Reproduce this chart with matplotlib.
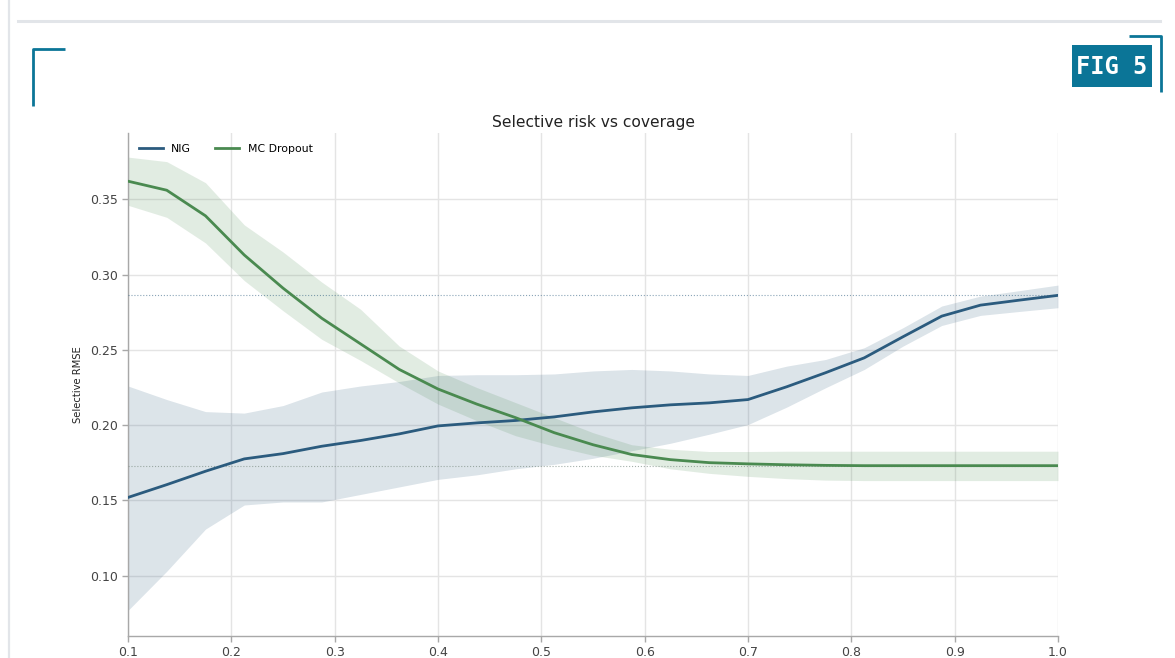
import matplotlib
matplotlib.use("Agg")
import matplotlib.pyplot as plt
from matplotlib.lines import Line2D
from matplotlib.patches import Rectangle
import numpy as np

# Coverage grid (25 evaluation points)
coverage = np.linspace(0.1, 1.0, 25)

# NIG selective RMSE with band
nig_mean = [0.152, 0.1605, 0.1694, 0.1776, 0.1811, 0.1860, 0.1898, 0.1942,
            0.1995, 0.2015, 0.2031, 0.2055, 0.2088, 0.2115, 0.2135, 0.2148,
            0.2170, 0.2255, 0.2348, 0.2447, 0.2587, 0.2724, 0.2797, 0.2830,
            0.2862]
nig_lower = [0.077, 0.103, 0.131, 0.147, 0.149, 0.149, 0.154, 0.159,
             0.164, 0.167, 0.171, 0.174, 0.178, 0.183, 0.188, 0.194,
             0.2004, 0.212, 0.2248, 0.237, 0.2525, 0.2662, 0.2729, 0.2755,
             0.278]
nig_upper = [0.226, 0.217, 0.209, 0.208, 0.213, 0.222, 0.226, 0.229,
             0.233, 0.2335, 0.2335, 0.234, 0.236, 0.237, 0.236, 0.234,
             0.233, 0.2392, 0.2436, 0.2514, 0.2647, 0.2791, 0.2857, 0.2893,
             0.293]

# MC Dropout selective RMSE with band
mc_mean = [0.362, 0.356, 0.339, 0.313, 0.291, 0.271, 0.254, 0.237,
           0.224, 0.214, 0.205, 0.195, 0.187, 0.1805, 0.1771, 0.1751,
           0.1743, 0.1737, 0.1733, 0.1731, 0.1731, 0.1731, 0.1731, 0.1731,
           0.1731]
mc_lower = [0.346, 0.338, 0.321, 0.296, 0.276, 0.257, 0.243, 0.228,
            0.214, 0.203, 0.193, 0.186, 0.180, 0.176, 0.171, 0.168,
            0.166, 0.1645, 0.1635, 0.1632, 0.1632, 0.1632, 0.1632, 0.1632,
            0.1632]
mc_upper = [0.378, 0.375, 0.361, 0.333, 0.315, 0.295, 0.277, 0.2525,
            0.236, 0.225, 0.215, 0.205, 0.195, 0.187, 0.184, 0.1825,
            0.1825, 0.1827, 0.1827, 0.1827, 0.1827, 0.1827, 0.1827, 0.1827,
            0.1827]

x_ticks = [0.1, 0.2, 0.3, 0.4, 0.5, 0.6, 0.7, 0.8, 0.9, 1.0]
y_ticks = [0.10, 0.15, 0.20, 0.25, 0.30, 0.35]

NIG_COLOR = "#2b5b7e"
MC_COLOR = "#4a8a50"
ACCENT = "#0b7597"
FRAME = "#e2e5e9"

W, H = 1175, 658
fig = plt.figure(figsize=(W / 100, H / 100), dpi=100)
fig.patch.set_facecolor("white")


def fx(x):
    return x / W


def fy(y):
    return 1 - y / H


# Page frame and corner marks
fig.add_artist(Line2D([fx(8.5), fx(8.5)], [fy(0), fy(H)], color=FRAME, lw=1.6,
                      transform=fig.transFigure))
fig.add_artist(Line2D([fx(18), fx(1160)], [fy(21), fy(21)], color=FRAME, lw=2.2,
                      transform=fig.transFigure))
fig.add_artist(Line2D([fx(33), fx(33), fx(65)], [fy(106), fy(49), fy(49)],
                      color=ACCENT, lw=2.0, solid_capstyle="butt",
                      transform=fig.transFigure))
fig.add_artist(Line2D([fx(1129), fx(1161), fx(1161)], [fy(36), fy(36), fy(92)],
                      color=ACCENT, lw=2.0, solid_capstyle="butt",
                      transform=fig.transFigure))
fig.add_artist(Rectangle((fx(1072), fy(87)), fx(1152) - fx(1072), fy(45) - fy(87),
                         facecolor=ACCENT, edgecolor="none",
                         transform=fig.transFigure))
fig.text(fx(1112), fy(66.5), "FIG 5", color="white", fontsize=17,
         fontweight="bold", family="DejaVu Sans Mono",
         ha="center", va="center")

# Main axes
ax = fig.add_axes([fx(128), fy(636), (1058 - 128) / W, (636 - 133) / H])

ax.fill_between(coverage, nig_lower, nig_upper, color=NIG_COLOR, alpha=0.165,
                linewidth=0, zorder=2)
ax.fill_between(coverage, mc_lower, mc_upper, color=MC_COLOR, alpha=0.16,
                linewidth=0, zorder=2)
ax.plot(coverage, nig_mean, color=NIG_COLOR, lw=2.0, label="NIG", zorder=4)
ax.plot(coverage, mc_mean, color=MC_COLOR, lw=2.0, label="MC Dropout", zorder=4)

# Full-coverage reference levels
ax.axhline(nig_mean[-1], color=NIG_COLOR, lw=0.8, ls=":", alpha=0.55, zorder=3)
ax.axhline(mc_mean[-1], color="#7f8f86", lw=0.8, ls=":", alpha=0.7, zorder=3)

ax.set_xlim(0.1, 1.0)
ax.set_ylim(0.06, 0.394)
ax.set_xticks(x_ticks)
ax.set_yticks(y_ticks)
ax.set_xticklabels([f"{t:.1f}" for t in x_ticks])
ax.set_yticklabels([f"{t:.2f}" for t in y_ticks])

ax.grid(True, color="#e4e4e4", lw=1.0, zorder=1)
ax.set_axisbelow(True)
for side in ("top", "right"):
    ax.spines[side].set_visible(False)
for side in ("left", "bottom"):
    ax.spines[side].set_color("#a8a8a8")
    ax.spines[side].set_linewidth(1.0)
ax.tick_params(axis="both", labelsize=9, colors="#a8a8a8", labelcolor="#444444",
               length=4, width=1.0, pad=3)

ax.set_title("Selective risk vs coverage", fontsize=11.2, color="#222222", pad=4.5)
ax.set_ylabel("Selective RMSE", fontsize=7.2, color="#222222", labelpad=5)

ax.legend(loc="upper left", ncol=2, frameon=False, fontsize=7.8,
          handlelength=2.2, columnspacing=2.2, borderaxespad=0.6,
          bbox_to_anchor=(0.0, 1.0))

fig.savefig("out.png", dpi=100, facecolor="white")
